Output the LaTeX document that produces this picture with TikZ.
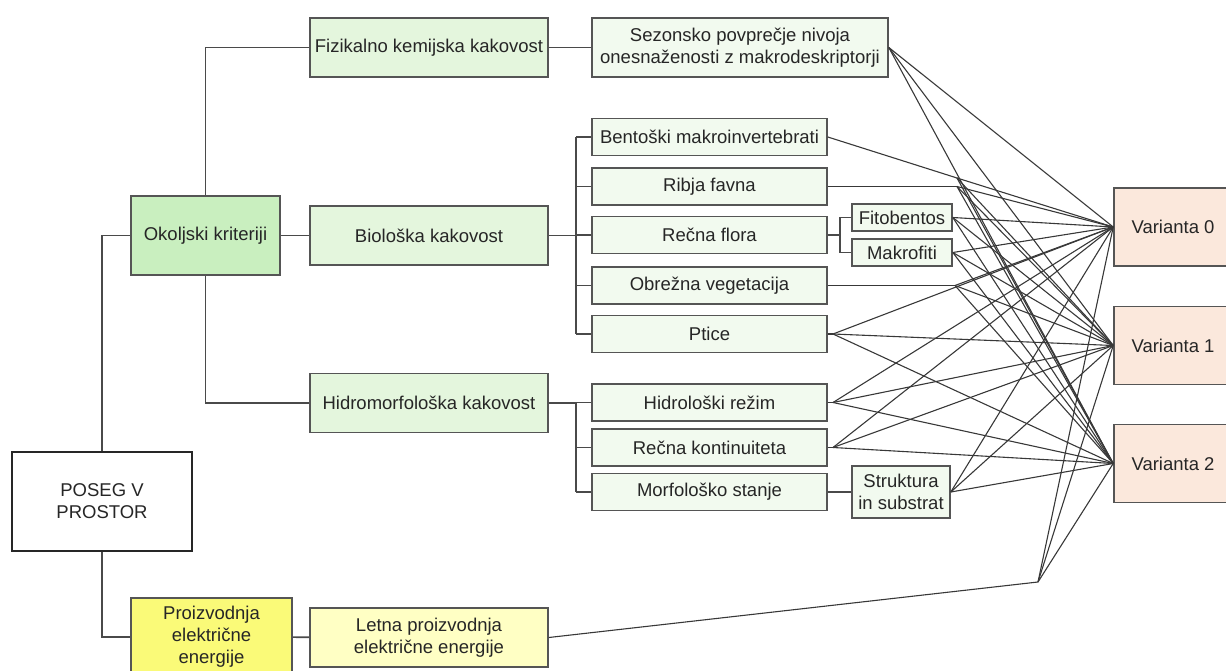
\documentclass[tikz,border=0pt]{standalone}
\usepackage{fontspec}
\setmainfont{Liberation Sans}
\usetikzlibrary{positioning}
\definecolor{okgreen}{HTML}{C9EFBF}
\definecolor{midgreen}{HTML}{E4F6DD}
\definecolor{leafgreen}{HTML}{F2FAEF}
\definecolor{varpeach}{HTML}{FBE8DC}
\definecolor{proyellow}{HTML}{FAFA78}
\definecolor{letyellow}{HTML}{FFFFC4}
\definecolor{boxline}{HTML}{555555}
\definecolor{wire}{HTML}{4A4A4A}
\tikzset{
  box/.style={draw=boxline, line width=1.6pt, inner sep=2pt, align=center,
    text=black!85, font=\fontsize{18.5}{22}\selectfont},
  crit/.style={box, fill=midgreen, minimum width=238pt, minimum height=59pt},
  leaf/.style={box, fill=leafgreen, minimum width=235pt, minimum height=37pt},
  sub/.style={box, fill=leafgreen, minimum width=100pt, minimum height=27pt},
  var/.style={box, fill=varpeach, minimum width=118pt, minimum height=78pt},
  tree/.style={draw=wire, line width=1.6pt},
  fan/.style={draw=black!78, line width=1.1pt}
}

\begin{document}
\begin{tikzpicture}[x=1pt,y=-1pt]
	\useasboundingbox (0,0) rectangle (1226,671);

	% root and main criteria
	\node[box, draw=black!85, fill=white, minimum width=180pt, minimum height=99pt] (poseg) at (102,501.5) {POSEG V\\PROSTOR};
	\node[box, fill=okgreen, minimum width=149pt, minimum height=79pt] (okolje) at (205.5,235.5) {Okoljski kriteriji};
	\node[box, fill=proyellow, minimum width=161pt, minimum height=78pt] (proiz) at (211.5,637) {Proizvodnja\\električne\\energije};

	\node[crit] (fiz) at (429,47.5) {Fizikalno kemijska kakovost};
	\node[crit] (bio) at (429,235.5) {Biološka kakovost};
	\node[crit] (hidro) at (429,403) {Hidromorfološka kakovost};
	\node[crit, fill=letyellow] (letna) at (429,637.5) {Letna proizvodnja\\električne energije};

	% indicators
	\node[leaf, minimum width=296pt, minimum height=59pt] (sez) at (740,47.5) {Sezonsko povprečje nivoja\\onesnaženosti z makrodeskriptorji};
	\node[leaf] (bent) at (709.5,137) {Bentoški makroinvertebrati};
	\node[leaf] (ribja) at (709.5,186.5) {Ribja favna};
	\node[leaf] (flora) at (709.5,235) {Rečna flora};
	\node[leaf] (obrez) at (709.5,285.5) {Obrežna vegetacija};
	\node[leaf] (ptice) at (709.5,334) {Ptice};
	\node[leaf] (hidrol) at (709.5,402.5) {Hidrološki režim};
	\node[leaf] (kont) at (709.5,447.5) {Rečna kontinuiteta};
	\node[leaf] (morf) at (709.5,492) {Morfološko stanje};
	\node[sub] (fito) at (902,217.5) {Fitobentos};
	\node[sub] (makro) at (902,252.5) {Makrofiti};
	\node[sub, minimum width=98pt, minimum height=52pt] (strukt) at (901,492) {Struktura\\in substrat};

	% variants
	\node[var] (var0) at (1173,227) {Varianta 0};
	\node[var] (var1) at (1173,345.5) {Varianta 1};
	\node[var] (var2) at (1173,463.5) {Varianta 2};

	% tree
	\draw[tree] (poseg.north) |- (okolje.west);
	\draw[tree] (poseg.south) |- (proiz.west);
	\draw[tree] (okolje.north) |- (fiz.west);
	\draw[tree] (okolje.south) |- (hidro.west);
	\draw[tree] (okolje) -- (bio);
	\draw[tree] (fiz) -- (sez);
	\draw[tree] (proiz) -- (letna);
	\coordinate (bbus) at (576,235.5);
	\coordinate (hbus) at (576,403);
	\draw[tree] (bio.east) -- (bbus);
	\draw[tree] (hidro.east) -- (hbus);
	\draw[tree] (bbus |- bent.west) -- (bbus |- ptice.west);
	\draw[tree] (hbus |- hidrol.west) -- (hbus |- morf.west);
	\foreach \n in {bent,ribja,flora,obrez,ptice}
		\draw[tree] (bbus |- \n.west) -- (\n.west);
	\foreach \n in {hidrol,kont,morf}
		\draw[tree] (hbus |- \n.west) -- (\n.west);
	\coordinate (fbus) at (840,235);
	\draw[tree] (flora.east) -- (fbus);
	\draw[tree] (fbus |- fito.west) -- (fbus |- makro.west);
	\draw[tree] (fbus |- fito.west) -- (fito.west);
	\draw[tree] (fbus |- makro.west) -- (makro.west);
	\draw[tree] (morf) -- (strukt);

	% ports towards the variants
	\coordinate (sezP) at (sez.east);
	\coordinate (bentP) at (957,178);
	\coordinate (ribjaP) at (957,186.5);
	\coordinate (fitoP) at (fito.east);
	\coordinate (makroP) at (makro.east);
	\coordinate (obrezP) at (955,285.5);
	\coordinate (pticeP) at (833,334);
	\coordinate (hidrolP) at (833,402.5);
	\coordinate (kontP) at (833,447.5);
	\coordinate (struktP) at (strukt.east);
	\coordinate (letnaP) at (1038,582);
	\draw[fan] (bent.east) -- (bentP);
	\draw[fan] (ribja.east) -- (ribjaP);
	\draw[fan] (obrez.east) -- (obrezP);
	\draw[fan] (ptice.east) -- (pticeP);
	\draw[fan] (hidrol.east) -- (hidrolP);
	\draw[fan] (kont.east) -- (kontP);
	\draw[fan] (letna.east) -- (letnaP);
	\foreach \p in {sezP,bentP,ribjaP,fitoP,makroP,obrezP,pticeP,hidrolP,kontP,struktP,letnaP}
		\foreach \v in {var0,var1,var2}
			\draw[fan] (\p) -- (\v.west);
\end{tikzpicture}
\end{document}
